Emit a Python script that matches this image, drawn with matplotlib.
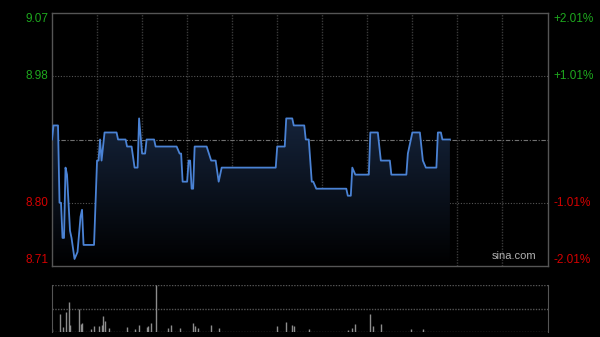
import numpy as np
import matplotlib
matplotlib.use('Agg')
import matplotlib.pyplot as plt
from matplotlib.colors import LinearSegmentedColormap

# 1. Data (minutes after 9:30, 330 minutes in total)
price_minutes = [0, 1, 4, 5, 6, 7, 8, 9, 10, 12, 13, 15, 17, 19, 20, 21, 28, 30, 31, 32,
                 33, 35, 43, 44, 49, 50, 53, 55, 57, 58, 60, 62, 63, 68, 69, 83, 85, 86, 87, 90,
                 91, 92, 93, 94, 95, 103, 106, 109, 111, 113, 149, 150, 155, 156, 160, 161, 168, 169, 171, 173,
                 174, 176, 196, 197, 199, 200, 202, 211, 212, 217, 219, 225, 226, 236, 237, 240, 245, 247, 249, 256,
                 257, 259, 260, 265]
prices = [8.89, 8.91, 8.91, 8.80, 8.80, 8.75, 8.75, 8.85, 8.84, 8.76, 8.75, 8.72, 8.73, 8.78, 8.79, 8.74, 8.74, 8.86, 8.86, 8.89,
          8.86, 8.90, 8.90, 8.89, 8.89, 8.88, 8.88, 8.85, 8.85, 8.92, 8.87, 8.87, 8.89, 8.89, 8.88, 8.88, 8.87, 8.87, 8.83, 8.83,
          8.86, 8.86, 8.82, 8.82, 8.88, 8.88, 8.86, 8.86, 8.83, 8.85, 8.85, 8.88, 8.88, 8.92, 8.92, 8.91, 8.91, 8.89, 8.89, 8.83,
          8.83, 8.82, 8.82, 8.81, 8.81, 8.85, 8.84, 8.84, 8.90, 8.90, 8.86, 8.86, 8.84, 8.84, 8.87, 8.90, 8.90, 8.86, 8.85, 8.85,
          8.90, 8.90, 8.89, 8.89]

vol_minutes = [0, 5, 7, 9, 11, 12, 18, 19, 20, 26, 28, 31, 33, 34, 35, 38, 50, 55, 58, 63,
               64, 66, 69, 77, 79, 85, 94, 95, 97, 106, 111, 150, 156, 160, 161, 171, 197, 200, 202, 212,
               214, 219, 239, 247]
volumes = [6, 39, 11, 43, 63, 14, 50, 18, 19, 6, 12, 12, 14, 34, 24, 8, 11, 6, 14, 10,
           12, 19, 100, 8, 14, 8, 19, 12, 8, 14, 8, 12, 21, 14, 12, 6, 5, 9, 16, 39,
           13, 17, 7, 6]

price_ticks = [9.07, 8.98, 8.80, 8.71]
price_labels = ['9.07', '8.98', '8.80', '8.71']
pct_labels = ['+2.01%', '+1.01%', '-1.01%', '-2.01%']
prev_close = 8.89

# 2. Figure and axes
plt.rcParams['font.family'] = ['Liberation Sans', 'DejaVu Sans']
fig = plt.figure(figsize=(6, 3.37), dpi=100, facecolor='black')
ax = fig.add_axes([52 / 600, 1 - 266 / 337, 495.5 / 600, 253 / 337], facecolor='black')
vax = fig.add_axes([52 / 600, 1 - 332 / 337, 495.5 / 600, 47 / 337], facecolor='black')

y_lo, y_hi = 8.71, 9.07
ax.set_xlim(0, 330)
ax.set_ylim(y_lo, y_hi)

# 3. Grid lines
for t in range(30, 330, 30):
    ax.axvline(t, color='#3a3a3a', lw=1, ls=(0, (1, 1)), zorder=1)
for p in [8.98, 8.80]:
    ax.axhline(p, color='#555555', lw=0.8, ls=(0, (1, 1.5)), zorder=1)
ax.axhline(prev_close, color='#707070', lw=0.8, ls=(0, (4, 1.5, 1, 1.5)), zorder=1)

# 4. Gradient fill under the price line
cmap = LinearSegmentedColormap.from_list('fill', ['#000000', '#15233a'])
grad = np.linspace(0, 1, 256).reshape(-1, 1)
img = ax.imshow(grad, cmap=cmap, aspect='auto', origin='lower',
                extent=[0, 330, y_lo, 8.92], zorder=2)
poly = ax.fill_between(price_minutes, prices, y_lo, color='none', lw=0)
clip = poly.get_paths()[0]
img.set_clip_path(clip, transform=ax.transData)
ax.set_ylim(y_lo, y_hi)

ax.plot(price_minutes, prices, color='#4a82d4', lw=1.3, zorder=3)

# 5. Axis labels
ax.set_xticks([])
ax.set_yticks([])
for s in ax.spines.values():
    s.set_color('#555555')
    s.set_linewidth(1)

for p, lab, pct in zip(price_ticks, price_labels, pct_labels):
    col = '#1ea81e' if p > prev_close else '#d40000'
    if p == y_hi:
        va = 'top'
    elif p == y_lo:
        va = 'bottom'
    else:
        va = 'center'
    ax.text(-0.008, p, lab, transform=ax.get_yaxis_transform(), ha='right', va=va,
            color=col, fontsize=8.5)
    ax.text(1.012, p, pct, transform=ax.get_yaxis_transform(), ha='left', va=va,
            color=col, fontsize=8.5)

ax.text(0.978, 0.02, 'sina.com', transform=ax.transAxes, ha='right', va='bottom',
        color='#b0b0b0', fontsize=8)

# 6. Volume panel
vax.set_xlim(0, 330)
vax.set_ylim(0, 100)
for v in [0, 50, 100]:
    vax.axhline(v, color='#555555', lw=1, ls=(0, (1, 1)), zorder=1)
vax.vlines(vol_minutes, 0, volumes, color='#8c8c8c', lw=1, zorder=2)
vax.set_xticks([])
vax.set_yticks([])
vax.spines['top'].set_visible(False)
vax.spines['bottom'].set_visible(False)
vax.spines['left'].set_color('#555555')
vax.spines['right'].set_color('#555555')

fig.savefig('out.png', dpi=100, facecolor='black')
